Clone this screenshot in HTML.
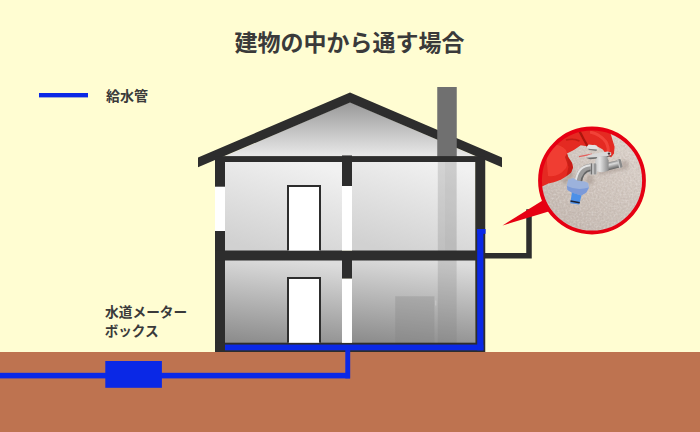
<!DOCTYPE html>
<html><head><meta charset="utf-8"><title>建物の中から通す場合</title>
<style>
html,body{margin:0;padding:0;background:#fffdd2;font-family:"Liberation Sans",sans-serif;}
svg{display:block}
</style></head><body>
<svg width="700" height="432" viewBox="0 0 700 432">
<defs>
<linearGradient id="gAttic" x1="0" y1="0" x2="0" y2="1"><stop offset="0" stop-color="#989898"/><stop offset="1" stop-color="#e9e9e9"/></linearGradient>
<linearGradient id="gUp" x1="0.7" y1="0" x2="0.3" y2="1"><stop offset="0" stop-color="#f1f1f1"/><stop offset="1" stop-color="#d1d1d1"/></linearGradient>
<linearGradient id="gLow" x1="0.57" y1="0" x2="0.43" y2="1"><stop offset="0" stop-color="#dddddd"/><stop offset="1" stop-color="#8e8e8e"/></linearGradient>
<clipPath id="cp"><circle cx="592" cy="180.5" r="52"/></clipPath>
<filter id="bl" x="-10%" y="-10%" width="120%" height="120%"><feGaussianBlur stdDeviation="0.6"/></filter>
<filter id="bl2" x="-20%" y="-20%" width="140%" height="140%"><feGaussianBlur stdDeviation="1.6"/></filter>
<filter id="noise" x="0" y="0" width="100%" height="100%"><feTurbulence type="fractalNoise" baseFrequency="0.55" numOctaves="2" seed="3"/><feColorMatrix type="matrix" values="0 0 0 0 0.42  0 0 0 0 0.36  0 0 0 0 0.33  1.6 0 0 0 -0.62"/></filter>
<filter id="noise2" x="0" y="0" width="100%" height="100%"><feTurbulence type="fractalNoise" baseFrequency="0.5" numOctaves="2" seed="11"/><feColorMatrix type="matrix" values="0 0 0 0 0.93  0 0 0 0 0.90  0 0 0 0 0.88  0 1.6 0 0 -0.62"/></filter>
<linearGradient id="gWall" x1="0.9" y1="0" x2="0.2" y2="1"><stop offset="0" stop-color="#e0d7cf"/><stop offset="0.5" stop-color="#d0c5bd"/><stop offset="1" stop-color="#c2b6ae"/></linearGradient>
<linearGradient id="gBody" x1="0" y1="0" x2="0" y2="1"><stop offset="0" stop-color="#8a8a8a"/><stop offset="0.3" stop-color="#dcdcdc"/><stop offset="0.65" stop-color="#9a9a9a"/><stop offset="1" stop-color="#606060"/></linearGradient>
<linearGradient id="gBon" x1="0" y1="0" x2="1" y2="0"><stop offset="0" stop-color="#c8c8c8"/><stop offset="0.35" stop-color="#e4e4e4"/><stop offset="1" stop-color="#8c8c8c"/></linearGradient>
</defs>
<rect width="700" height="432" fill="#fffdd2"/>
<rect x="0" y="352" width="700" height="80" fill="#be7350"/>

<rect x="225" y="162" width="117" height="89" fill="url(#gUp)"/>
<rect x="352" y="162" width="123" height="89" fill="url(#gUp)"/>
<rect x="225" y="260" width="117" height="84" fill="url(#gLow)"/>
<rect x="352" y="260" width="123" height="84" fill="url(#gLow)"/>
<polygon points="224,156.5 350,102 476,156.5" fill="url(#gAttic)"/>
<rect x="437.8" y="162" width="18.8" height="181" fill="#7c7c7c" fill-opacity="0.25"/>
<rect x="445" y="162" width="11.6" height="89" fill="#7c7c7c" fill-opacity="0.08"/>
<rect x="395.2" y="296.3" width="39.2" height="47" fill="#808080" fill-opacity="0.30"/>
<rect x="435.3" y="300.5" width="1" height="5" fill="#d0d0d0" fill-opacity="0.7"/>
<polygon fill="#2d2d2d" points="198,157.4 350,92.5 502,157.4 502,167.3 350,102.6 198,167.3"/>
<rect x="437.25" y="87" width="19.5" height="70" fill="#707070"/>
<g fill="#2d2d2d">
<rect x="215" y="158" width="10" height="194"/>
<rect x="475.25" y="158" width="10" height="194"/>
<rect x="215" y="156.1" width="270" height="5.9"/>
<rect x="215" y="250.5" width="270" height="10"/>
<rect x="215" y="342.7" width="270" height="9.3"/>
<rect x="342" y="155.45" width="10" height="30.8"/>
<rect x="342" y="260" width="10" height="18.75"/>
</g>
<rect x="215" y="186.7" width="10" height="44.3" fill="#fff"/>
<rect x="342" y="186" width="10" height="64.5" fill="#fff"/>
<rect x="342" y="278.75" width="10" height="64" fill="#fff"/>
<path d="M288 250.5 V186 H320 V250.5" fill="#fff" stroke="#2d2d2d" stroke-width="2"/>
<path d="M288 342.7 V278 H320 V342.7" fill="#fff" stroke="#2d2d2d" stroke-width="2"/>
<path d="M485 255.7 H529 V209.2" fill="none" stroke="#2d2d2d" stroke-width="5.5"/>
<g fill="#0a28e6">
<rect x="0" y="372.8" width="350" height="5.6"/>
<rect x="345.3" y="347" width="4.9" height="31.4"/>
<rect x="225" y="344.6" width="258.4" height="5.7"/>
<rect x="477.2" y="229" width="6.2" height="121.3"/>
<rect x="477.2" y="229" width="8.4" height="4.8"/>
<rect x="105.3" y="361" width="56.6" height="26.8"/>
<rect x="39" y="93" width="49" height="4.4"/>
</g>
<polygon points="502.5,225.4 545,199 552,210.5" fill="#e60012"/>
<circle cx="592" cy="180.5" r="52" fill="url(#gWall)"/>
<g clip-path="url(#cp)">
<rect x="538" y="126" width="110" height="110" filter="url(#noise)" opacity="0.4"/>
<rect x="538" y="126" width="110" height="110" filter="url(#noise2)" opacity="0.45"/>
<g filter="url(#bl2)" opacity="0.38">
<ellipse cx="625" cy="165" rx="3.5" ry="5" fill="#8c7c74"/>
<path d="M597 171 L622 167 L623 170 L600 175 Z" fill="#8c7c74"/>
<path d="M572 168 L566 176 L560 182 L566 184 L574 176 Z" fill="#8c7c74"/>
<ellipse cx="590" cy="180" rx="4" ry="5" fill="#94847c"/>
</g>
<g filter="url(#bl)">
<path d="M535 120 L610 120 L610.4 132.9 L612.5 139.9 L614.6 146.8 L613.9 153.8 L611.1 157.3 L607.6 155.9 L602.8 149.6 L597.9 146.8 L594.4 144.8 L586.9 146.3 L580.8 145.3 L573.9 149.9 L566.9 153.6 L568.3 157.3 L572 162.9 L573 167.5 L571.1 172.5 L566.4 176.2 L560.8 179.8 L553.9 182.3 L548.3 183.6 L535 190 Z" fill="#e42a20"/>
<path d="M546 150 Q556 140 566 150 Q570 160 566 168 Q558 178 548 176 Z" fill="#f24238" opacity="0.8"/>
<path d="M566.9 153.6 L568.3 157.3 L572 162.9 L573 167.5 L571.1 172.5 L566.4 176.2 L568.5 167 L565 157 Z" fill="#c01c14" opacity="0.8"/>
<path d="M578.9 130 L583.3 138.5 L587.9 146.8" fill="none" stroke="#a8140e" stroke-width="2.2"/>
<path d="M566 140 Q574 138 579.5 141" fill="none" stroke="#c01c14" stroke-width="1.5"/>
<path d="M590 132 Q600 134 606 142 Q609 148 608 152" fill="none" stroke="#f4483e" stroke-width="3" opacity="0.8"/>
<path d="M586.6 147 L588.6 144.6 L596.6 145.6 L598.2 148.2 L597 149.6 L588 148.8 Z" fill="#e2e2e2"/>
<path d="M588 148.8 L597 149.6 L596.5 151 L589 150 Z" fill="#7c7c7c"/>
<path d="M579 156.7 L592 154.2" stroke="#e4605c" stroke-width="1.3"/>
<path d="M585.4 157 L590 154.6 L607.5 151.6 L611.2 152.4 L611.2 155 L606 156.6 L590 158.4 Z" fill="#d8d8d8"/>
<path d="M586 157.8 L606 156.6 L611.2 155 L611 156 L606 157.8 L590 159.3 Z" fill="#6c6c6c"/>
<circle cx="609" cy="153.6" r="1.2" fill="#4a2c2c"/>
<g transform="rotate(-14 607 167)">
<rect x="606" y="163" width="14" height="7.6" fill="url(#gBody)"/>
<rect x="618.6" y="162.3" width="3.6" height="8.6" rx="1.2" fill="#8a8a8a"/>
<rect x="618.6" y="162.3" width="1.2" height="8.6" fill="#cccccc"/>
</g>
<path d="M597.5 156.5 L606.5 156 L608.6 160.5 L608.6 170.5 Q602 173.5 595.2 171 L595.2 161 Z" fill="url(#gBon)"/>
<rect x="588.4" y="163.4" width="8.6" height="11" rx="1.5" fill="#bcbcbc"/>
<rect x="590.8" y="163.4" width="1.2" height="11" fill="#707070"/>
<rect x="594.4" y="163.4" width="1.2" height="11" fill="#808080"/>
<path d="M590.5 167.6 Q580 168.5 578 183" fill="none" stroke="#9c9c9c" stroke-width="7.6"/>
<path d="M590.5 165.3 Q577.5 166 575.6 182" fill="none" stroke="#e4e4e4" stroke-width="2"/>
<path d="M590.5 170.3 Q582.5 171.5 581 183" fill="none" stroke="#646464" stroke-width="1.6"/>
<path d="M568.2 179.4 L573.1 178.1 L577.9 180.8 L584.9 181.5 L588.3 182.9 L589 187.8 L586.3 192.6 L581.4 195.4 L571.7 192.6 L567.5 189.9 L566.8 185 Z" fill="#9cb2dc"/>
<path d="M566.9 186 Q577 191 588.9 187.5 L586.3 192.6 L581.4 195.4 L571.7 192.6 L567.5 189.9 Z" fill="#7c9ad8"/>
<path d="M571.9 192.6 L581.4 195.4 L579.3 204.6 L570.3 203.2 Z" fill="#4c90e8"/>
<path d="M570.5 200.9 L579.7 202.7" stroke="#1c2030" stroke-width="1.5"/>
</g></g>
<circle cx="592" cy="180.5" r="52" fill="none" stroke="#e60012" stroke-width="3.8"/>
<text x="234.6" y="50.9" font-family="'Liberation Sans','Noto Sans CJK JP',sans-serif" font-size="23" font-weight="bold" fill="#3a3a3a" textLength="230" lengthAdjust="spacing">建物の中から通す場合</text>
<text x="105.9" y="101.3" font-family="'Liberation Sans','Noto Sans CJK JP',sans-serif" font-size="14" font-weight="bold" fill="#3a3a3a">給水管</text>
<text x="105.1" y="316.8" font-family="'Liberation Sans','Noto Sans CJK JP',sans-serif" font-size="13.7" font-weight="bold" fill="#3a3a3a">水道メーター</text>
<text x="104.7" y="336" font-family="'Liberation Sans','Noto Sans CJK JP',sans-serif" font-size="13.6" font-weight="bold" fill="#3a3a3a">ボックス</text>
</svg></body></html>
